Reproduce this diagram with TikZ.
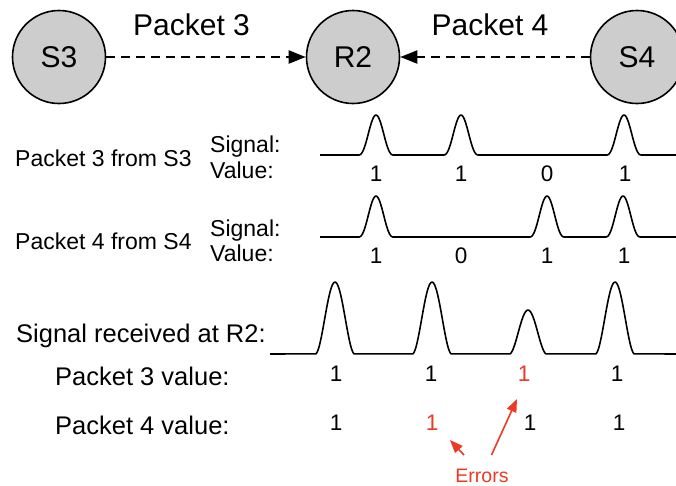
\documentclass[tikz,border=0pt]{standalone}
\usepackage{fontspec}
\setmainfont{Liberation Sans}
\usetikzlibrary{arrows.meta}

\definecolor{errred}{RGB}{236,58,36}
\definecolor{nodegray}{RGB}{205,205,205}

% one bell-shaped pulse: centre x, base y, height, half width, sharpness
\newcommand\pulse[5]{-- plot[domain=-#4:#4,samples=31,smooth] ({#1+\x},{#2-#3*(cos(88*\x/#4))^#5})}

\tikzset{
  station/.style={circle, draw, line width=1.6pt, fill=nodegray, minimum size=93pt,
    inner sep=0pt, font=\fontsize{30}{34}\selectfont},
  packetlink/.style={line width=2pt, dash pattern=on 9pt off 6pt,
    -{Triangle[length=17pt,width=13pt]}},
  biglabel/.style={inner sep=0pt, anchor=base, font=\fontsize{30}{34}\selectfont},
  rowlabel/.style={inner sep=0pt, anchor=base west, font=\fontsize{23}{27}\selectfont},
  bottomlabel/.style={inner sep=0pt, anchor=base west, font=\fontsize{25.5}{30}\selectfont},
  bitval/.style={inner sep=0pt, anchor=base, font=\fontsize{22.5}{26}\selectfont},
  wave/.style={line width=1.6pt, line join=round},
  errtext/.style={inner sep=0pt, anchor=base, text=errred, font=\fontsize{19.5}{23}\selectfont},
  errarrow/.style={errred, line width=1.6pt, -{Triangle[length=13pt,width=10pt]}},
}

\begin{document}
\begin{tikzpicture}[x=1pt, y=-1pt]
  \clip (0,0) rectangle (676,485);
  \fill[white] (0,0) rectangle (676,485);

  % stations
  \node[station] (S3) at (59,57) {S3};
  \node[station] (R2) at (353,57) {R2};
  \node[station] (S4) at (637,57) {S4};

  \draw[packetlink] (S3) -- (R2);
  \draw[packetlink] (S4) -- (R2);
  \node[biglabel] (lp3) at (191.5,35) {Packet 3};
  \node[biglabel] (lp4) at (490,35) {Packet 4};

  % packet 3 as sent by S3
  \node[rowlabel] (from3) at (15,166) {Packet 3 from S3};
  \node[rowlabel] (sig3) at (210,152.5) {Signal:};
  \node[rowlabel] (val3) at (210,178) {Value:};
  \draw[wave] (320,155) \pulse{376}{155}{40}{17}{2.4} \pulse{461}{155}{40}{17}{2.4}
    \pulse{624}{155}{40}{17}{2.4} -- (680,155);
  \node[bitval] (a1) at (376,181) {1};
  \node[bitval] (a2) at (461,181) {1};
  \node[bitval] (a3) at (547,181) {0};
  \node[bitval] (a4) at (625,181) {1};

  % packet 4 as sent by S4
  \node[rowlabel] (from4) at (15,249) {Packet 4 from S4};
  \node[rowlabel] (sig4) at (210,236) {Signal:};
  \node[rowlabel] (val4) at (210,261.5) {Value:};
  \draw[wave] (320,237) \pulse{376}{237}{41}{17}{2.4} \pulse{547}{237}{41}{17}{2.4}
    \pulse{623}{237}{41}{17}{2.4} -- (680,237);
  \node[bitval] (b1) at (376,263) {1};
  \node[bitval] (b2) at (461,263) {0};
  \node[bitval] (b3) at (547,263) {1};
  \node[bitval] (b4) at (624,263) {1};

  % superposition seen by R2
  \node[bottomlabel] (recv) at (16,342) {Signal received at R2:};
  \draw[wave] (270,354) \pulse{335}{354}{72}{19}{1.8} \pulse{432}{354}{72}{19}{1.8}
    \pulse{528}{354}{44}{18}{1.8} \pulse{615}{354}{72}{19}{1.8} -- (680,354);

  \node[bottomlabel] (dec3) at (55,385) {Packet 3 value:};
  \node[bitval] (c1) at (336,381) {1};
  \node[bitval] (c2) at (431,381) {1};
  \node[bitval, text=errred] (c3) at (524,381) {1};
  \node[bitval] (c4) at (617,381) {1};

  \node[bottomlabel] (dec4) at (55,434) {Packet 4 value:};
  \node[bitval] (d1) at (336,430) {1};
  \node[bitval, text=errred] (d2) at (432,430) {1};
  \node[bitval] (d3) at (530,430) {1};
  \node[bitval] (d4) at (619,430) {1};

  % error markers
  \node[errtext] (err) at (482,482) {Errors};
  \coordinate (t1) at (464,455);
  \coordinate (h1) at (450,440);
  \coordinate (t2) at (491.5,455);
  \coordinate (h2) at (517,399);
  \draw[errarrow] (t1) -- (h1);
  \draw[errarrow] (t2) -- (h2);
\end{tikzpicture}
\end{document}
